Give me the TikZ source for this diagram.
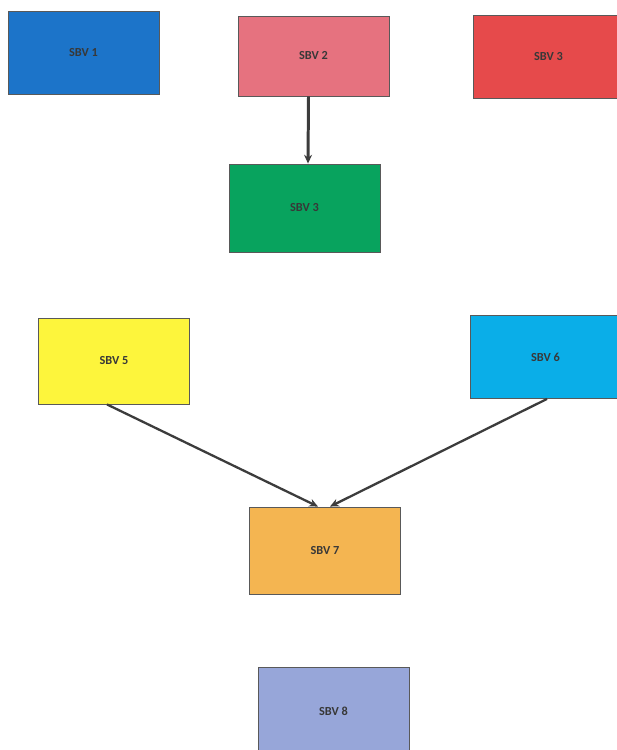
\documentclass[tikz,border=0pt]{standalone}
\usepackage{fontspec}
\setsansfont{Carlito}
\usetikzlibrary{arrows.meta}
\definecolor{sbvblue}{HTML}{1C74C9}
\definecolor{sbvpink}{HTML}{E6727F}
\definecolor{sbvred}{HTML}{E64A4B}
\definecolor{sbvgreen}{HTML}{08A35E}
\definecolor{sbvyellow}{HTML}{FDF53C}
\definecolor{sbvcyan}{HTML}{0AAEE8}
\definecolor{sbvorange}{HTML}{F4B551}
\definecolor{sbvlilac}{HTML}{97A6D9}
\definecolor{edgegray}{HTML}{3C3C3C}

\begin{document}
\begin{tikzpicture}[
		x=0.02cm, y=-0.02cm,
		>={Stealth[length=5pt, width=4.5pt]},
		font=\sffamily\bfseries\fontsize{7}{8.5}\selectfont,
		sbv/.style={draw=black!65, fill=#1, line width=0.5pt, inner sep=0pt,
				minimum width=3.02cm, minimum height=1.66cm, text=black!78},
		link/.style={->, line width=1.3pt, draw=edgegray},
	]
	\clip (0,0) rectangle (617,750);
	\fill[white] (0,0) rectangle (617,750);

	\node[sbv=sbvblue] (sbv1) at (83.5,53) {SBV 1};
	\node[sbv=sbvpink, minimum height=1.6cm] (sbv2) at (313.5,56) {SBV 2};
	\node[sbv=sbvred] (sbv3) at (548.5,57) {SBV 3};

	\node[sbv=sbvgreen, minimum height=1.76cm] (sbv4) at (304.5,208) {SBV 3};

	\node[sbv=sbvyellow, minimum height=1.72cm] (sbv5) at (114,361) {SBV 5};
	\node[sbv=sbvcyan] (sbv6) at (545.5,357) {SBV 6};

	\node[sbv=sbvorange, minimum height=1.74cm] (sbv7) at (325,550.5) {SBV 7};

	\node[sbv=sbvlilac, minimum height=1.76cm] (sbv8) at (333.5,711) {SBV 8};

	\draw[link, line width=1.7pt] ([xshift=-0.1cm]sbv2.south) -- ([xshift=0.07cm]sbv4.north);
	\draw[link] ([xshift=-0.14cm]sbv5.south) -- ([xshift=-0.14cm]sbv7.north);
	\draw[link] ([xshift=0.03cm]sbv6.south) -- ([xshift=0.1cm]sbv7.north);

\end{tikzpicture}
\end{document}
